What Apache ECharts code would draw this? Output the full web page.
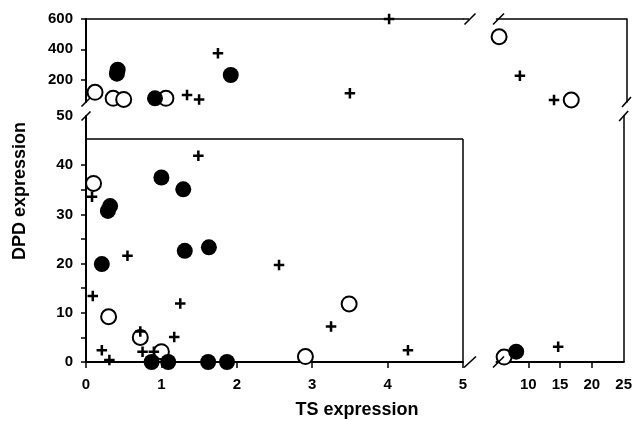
<!DOCTYPE html>
<html>
<head>
<meta charset="utf-8">
<script src="https://cdn.jsdelivr.net/npm/echarts@6/dist/echarts.min.js"></script>
<style>
html,body{margin:0;padding:0;background:#fff;}
#c{width:635px;height:421px;}
</style>
</head>
<body>
<div id="c"></div>
<script>
// ---- data (TS expression, DPD expression) ----
// lower panels (DPD 0-50)
const filledLowLeft = [[0.21,19.9],[0.32,31.7],[0.29,30.7],[1.0,37.5],[1.29,35.1],[1.31,22.6],[1.63,23.3],[0.87,0],[1.09,0],[1.62,0],[1.87,0]];
const openLowLeft = [[0.1,36.3],[0.3,9.2],[0.72,5.0],[1.0,2.1],[3.49,11.8],[2.91,1.1]];
const plusLowLeft = [[0.08,33.6],[0.55,21.6],[1.49,41.9],[2.56,19.7],[0.09,13.4],[1.25,11.9],[0.21,2.4],[0.31,0.4],[0.72,6.2],[0.75,2.1],[1.17,5.1],[0.9,2.1],[3.25,7.2],[4.27,2.4]];
const filledLowRight = [[8.1,2.1]];
const openLowRight = [[6.2,1.0]];
const plusLowRight = [[14.7,3.1]];
// upper panels (DPD > 50)
const filledUpLeft = [[0.42,266],[0.41,240],[0.915,77],[1.92,231]];
const openUpLeft = [[0.12,117],[0.36,77],[0.5,70],[1.06,77]];
const plusUpLeft = [[1.34,99],[1.5,70],[1.75,374],[3.5,110],[4.02,600]];
const openUpRight = [[5.4,483],[16.5,66]];
const plusUpRight = [[8.6,226],[13.85,66]];
// tick labels
const xTicksLeft = [0,1,2,3,4,5];
const xTicksRight = [10,15,20,25];
const xTickMarksRight = [10,15,20];
const yTicksLow = [0,10,20,30,40,50];
const yTickMarksLow = [0,5,10,15,20,25,30,35,40];
const yTicksUp = [200,400,600];
const lowerBoxTop = 45.3;

const FONT = '"Liberation Sans", Arial, Helvetica, sans-serif';
const lblStyle = {color:'#000', fontSize:15, fontWeight:'bold', fontFamily:FONT};
const lineS = w => ({show:true, onZero:false, lineStyle:{color:'#000', width:w}});
const noTick = {show:false};
const noLbl = {show:false};

const chart = echarts.init(document.getElementById('c'), null, {renderer:'canvas'});

const grids = [
  {left:86, top:19, width:377, height:83},
  {left:496.5, top:19, width:130, height:83},
  {left:86, top:116, width:377, height:246},
  {left:496.5, top:116, width:130, height:246}
];

const xAxes = [
  {gridIndex:0, type:'value', min:0, max:5, position:'top', axisLine:lineS(1.5), axisTick:noTick, axisLabel:noLbl, splitLine:{show:false}},
  {gridIndex:1, type:'value', min:5, max:25, position:'top', axisLine:lineS(1.5), axisTick:noTick, axisLabel:noLbl, splitLine:{show:false}},
  {gridIndex:2, type:'value', min:0, max:5, interval:1, position:'bottom', axisLine:lineS(2),
    axisTick:{show:true, inside:false, length:6, lineStyle:{color:'#000', width:1.5}, customValues:xTicksLeft},
    axisLabel:Object.assign({margin:15, customValues:xTicksLeft}, lblStyle), splitLine:{show:false}},
  {gridIndex:3, type:'value', min:5, max:25, position:'bottom', axisLine:lineS(2),
    axisTick:{show:true, inside:false, length:6, lineStyle:{color:'#000', width:1.5}, customValues:xTickMarksRight},
    axisLabel:Object.assign({margin:15, customValues:xTicksRight}, lblStyle), splitLine:{show:false}}
];

const yAxes = [
  {gridIndex:0, type:'value', min:53, max:600, position:'left', axisLine:lineS(2),
    axisTick:{show:true, length:5, lineStyle:{color:'#000', width:1.5}, customValues:yTicksUp},
    axisLabel:Object.assign({margin:13, customValues:yTicksUp}, lblStyle), splitLine:{show:false}},
  {gridIndex:1, type:'value', min:53, max:600, position:'right', axisLine:lineS(1.5), axisTick:noTick, axisLabel:noLbl, splitLine:{show:false}},
  {gridIndex:2, type:'value', min:0, max:50, position:'left', axisLine:lineS(2),
    axisTick:{show:true, length:5, lineStyle:{color:'#000', width:1.5}, customValues:yTickMarksLow},
    axisLabel:Object.assign({margin:13, customValues:yTicksLow}, lblStyle), splitLine:{show:false}},
  {gridIndex:3, type:'value', min:0, max:50, position:'right', axisLine:lineS(1.5), axisTick:noTick, axisLabel:noLbl, splitLine:{show:false}}
];

const PLUS = 'path://M3.8,0H6.2V3.8H10V6.2H6.2V10H3.8V6.2H0V3.8H3.8Z';
function openS(data, g, extra){
  return Object.assign({type:'scatter', xAxisIndex:g, yAxisIndex:g, data:data, clip:false, z:2,
    symbol:'circle', symbolSize:15, itemStyle:{color:'#fff', borderColor:'#000', borderWidth:2, opacity:1}}, extra||{});
}
function filledS(data, g){
  return {type:'scatter', xAxisIndex:g, yAxisIndex:g, data:data, clip:false, z:3,
    symbol:'circle', symbolSize:16, itemStyle:{color:'#000', opacity:1}};
}
function plusS(data, g){
  return {type:'scatter', xAxisIndex:g, yAxisIndex:g, data:data, clip:false, z:4,
    symbol:PLUS, symbolSize:10.5, itemStyle:{color:'#000', opacity:1}};
}

const series = [
  openS(openUpLeft,0), filledS(filledUpLeft,0), plusS(plusUpLeft,0),
  openS(openUpRight,1), plusS(plusUpRight,1),
  openS(openLowLeft,2,{markLine:{silent:true, symbol:['none','none'], label:{show:false}, animation:false,
      lineStyle:{color:'#000', width:1.5, type:'solid'},
      data:[[{coord:[0,lowerBoxTop]},{coord:[5,lowerBoxTop]}],[{coord:[5,lowerBoxTop]},{coord:[5,0]}]]}}),
  filledS(filledLowLeft,2), plusS(plusLowLeft,2),
  openS(openLowRight,3), filledS(filledLowRight,3), plusS(plusLowRight,3)
];

chart.setOption({
  animation:false,
  backgroundColor:'#fff',
  grid:grids, xAxis:xAxes, yAxis:yAxes, series:series
});

// axis-break slashes and titles, anchored to the axes through convertToPixel
const P = (g, pt) => chart.convertToPixel({gridIndex:g}, pt);
function slash(c, dx, dy){
  return {type:'line', z:100, shape:{x1:c[0]-dx, y1:c[1]+dy, x2:c[0]+dx, y2:c[1]-dy},
    style:{stroke:'#000', lineWidth:1.6}};
}
const g = [];
// left axis break
g.push(slash(P(0,[0,53]), 4.5, 4.5));
g.push(slash(P(2,[0,50]), 4.5, 4.5));
// right border break
g.push(slash(P(1,[25,53]), 4.5, 5));
g.push(slash(P(3,[25,50]), 4.5, 5));
// top line break
const tl = P(0,[5,600]);
g.push({type:'line', z:100, shape:{x1:tl[0], y1:tl[1], x2:tl[0]+6, y2:tl[1]}, style:{stroke:'#000', lineWidth:1.5}});
g.push(slash([tl[0]+7, tl[1]], 5.5, 5.5));
const tr = P(1,[5,600]);
g.push(slash([tr[0]+2, tr[1]], 5.5, 5.5));
// bottom axis break
const bl = P(2,[5,0]);
g.push(slash([bl[0]+7, bl[1]], 6, 5.5));
const br = P(3,[5,0]);
g.push(slash([br[0]+2, br[1]], 5.5, 5.5));
// titles
g.push({type:'text', x:357, y:410, z:100, style:{text:'TS expression', font:'bold 18px ' + FONT, fill:'#000',
  align:'center', verticalAlign:'middle', textAlign:'center', textVerticalAlign:'middle'}});
g.push({type:'text', x:20, y:191, rotation:Math.PI/2, z:100, style:{text:'DPD expression', font:'bold 18px ' + FONT, fill:'#000',
  align:'center', verticalAlign:'middle', textAlign:'center', textVerticalAlign:'middle'}});
chart.setOption({graphic:g});
</script>
</body>
</html>
